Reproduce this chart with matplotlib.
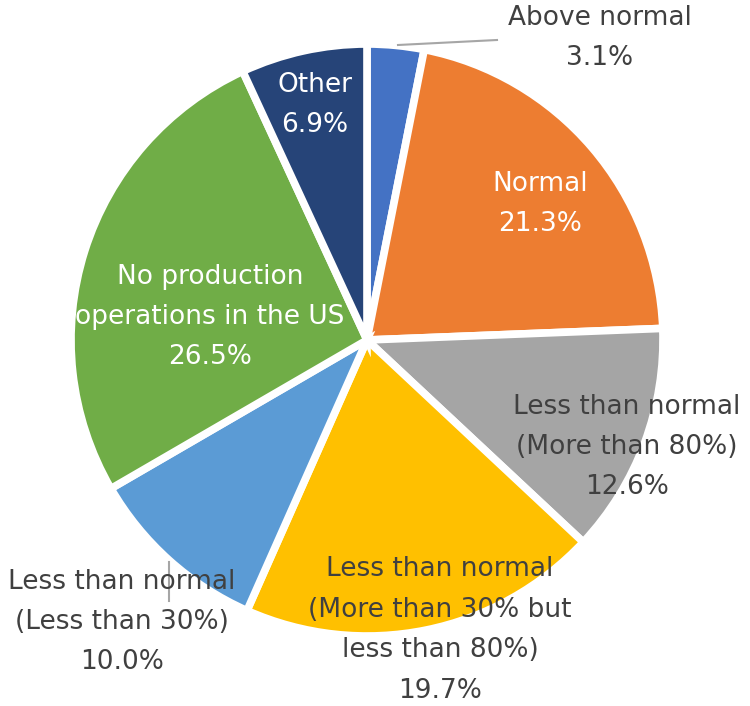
import matplotlib
matplotlib.use("Agg")
import matplotlib.pyplot as plt

labels = ["Above normal", "Normal", "Less than normal\n(More than 80%)",
          "Less than normal\n(More than 30% but\nless than 80%)",
          "Less than normal\n(Less than 30%)",
          "No production\noperations in the US", "Other"]
shares = [3.1, 21.3, 12.6, 19.7, 10.0, 26.5, 6.9]
colors = ["#4472C4", "#ED7D31", "#A5A5A5", "#FFC000", "#5B9BD5", "#70AD47", "#264478"]
text_colors = ["#404040", "white", "#404040", "#404040", "#404040", "white", "white"]

W, H = 750, 706
# label centres in pixel space (x, y from top)
label_pos = [(600, 38), (540, 204), (627, 447), (440, 630), (122, 622), (210, 317), (315, 105)]

fig = plt.figure(figsize=(W / 100, H / 100), dpi=100)
ax = fig.add_axes([0, 0, 1, 1])

cx, cy, r = 367, H - 340, 296
ax.pie(shares, colors=colors, startangle=90, counterclock=False,
       center=(cx, cy), radius=r, frame=True,
       wedgeprops=dict(edgecolor="white", linewidth=5.5))
ax.set_xlim(0, W)
ax.set_ylim(0, H)
ax.set_aspect("equal")
ax.axis("off")

for lab, val, (px, py), tc in zip(labels, shares, label_pos, text_colors):
    ax.text(px, H - py, f"{lab}\n{val:.1f}%", ha="center", va="center",
            fontsize=19, color=tc, linespacing=1.72, family="DejaVu Sans")

# leader lines
ax.plot([398, 497], [H - 45, H - 40], color="#A6A6A6", lw=1.5)
ax.plot([169, 169], [H - 562, H - 601], color="#A6A6A6", lw=1.5)

fig.savefig("out.png", dpi=100)
